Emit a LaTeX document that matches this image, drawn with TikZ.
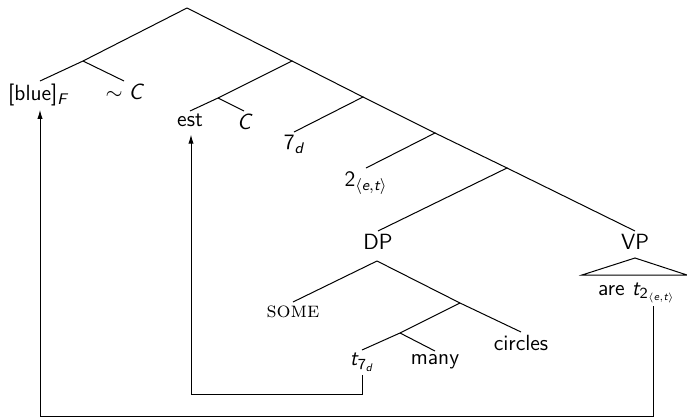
\documentclass[tikz,border=0pt]{standalone}
\usepackage{amsmath}
\usetikzlibrary{arrows.meta,calc}
\newcommand\myit[1]{\text{\sffamily\itshape #1}}
\newcommand\myup[1]{\text{\sffamily #1}}
\tikzset{
  lbl/.style={font=\sffamily\fontsize{11}{13}\selectfont, inner sep=1.5pt, anchor=north},
  treeedge/.style={line width=0.5pt},
  conn/.style={line width=0.5pt},
  arr/.style={conn,-{Latex[length=4.5pt,width=2.6pt]}}
}
\begin{document}
\begin{tikzpicture}[x=0.5pt,y=-0.5pt]
\useasboundingbox (0,0) rectangle (687,418);
% joints
\coordinate (root) at (187,8);
\coordinate (j1) at (83,61);
\coordinate (j2) at (292,61);
\coordinate (j3) at (218,98);
\coordinate (j4) at (363,97);
\coordinate (j5) at (435,133);
\coordinate (j6) at (507,168);
\coordinate (dpa) at (377,261);
\coordinate (j7) at (460,303);
\coordinate (j8) at (400,333);
\coordinate (vpa) at (635,258);
\coordinate (vpl) at (582,275);
\coordinate (vpr) at (687,275);
% labels
\node[lbl] (blue) at (38,81) {[blue]$_{\myit{F}}$};
\node[lbl] (negC) at (124,81) {$\sim \myit{C}$};
\node[lbl] (est) at (190,111) {est};
\node[lbl] (C) at (244,111) {\itshape C};
\node[lbl] (sev) at (294,132) {7$_{\myit{d}}$};
\node[lbl] (two) at (366,168) {2$_{\langle \myit{e},\myit{t}\rangle}$};
\node[lbl] (DP) at (378,231) {DP};
\node[lbl] (VP) at (635,231) {VP};
\node[lbl] (some) at (293,302) {\rmfamily\textsc{some}};
\node[lbl] (circ) at (521,332) {circles};
\node[lbl] (tsev) at (362,350) {$\myit{t}_{\myup{7}_{\myit{d}}}$};
\node[lbl] (many) at (435,351) {many};
\node[lbl,anchor=base] (are) at (637,295) {are $\myit{t}_{\myup{2}_{\langle \myit{e},\myit{t}\rangle}}$};
% tree edges
\draw[treeedge] (root) -- (j1) -- ([xshift=1pt]blue.north);
\draw[treeedge] (j1) -- (negC.north);
\draw[treeedge] (root) -- (j2) -- (j3) -- (est.north);
\draw[treeedge] (j3) -- (C.north);
\draw[treeedge] (j2) -- (j4) -- (sev.north);
\draw[treeedge] (j4) -- (j5) -- (two.north);
\draw[treeedge] (j5) -- (j6) -- (DP.north);
\draw[treeedge] (j6) -- (VP.north);
\draw[treeedge] (dpa) -- (some.north);
\draw[treeedge] (dpa) -- (j7) -- (circ.north);
\draw[treeedge] (j7) -- (j8) -- (tsev.north);
\draw[treeedge] (j8) -- (many.north);
\draw[treeedge] (vpl) -- (vpa) -- (vpr) -- cycle;
% movement connectors
\coordinate (c1) at (40,416);
\coordinate (c2) at (191,394);
\draw[arr] ([xshift=8pt]are.south) |- (c1) -- (c1 |- blue.south);
\draw[arr] (tsev.south) |- (c2) -- ([yshift=-2pt]c2 |- est.south);
\end{tikzpicture}
\end{document}
